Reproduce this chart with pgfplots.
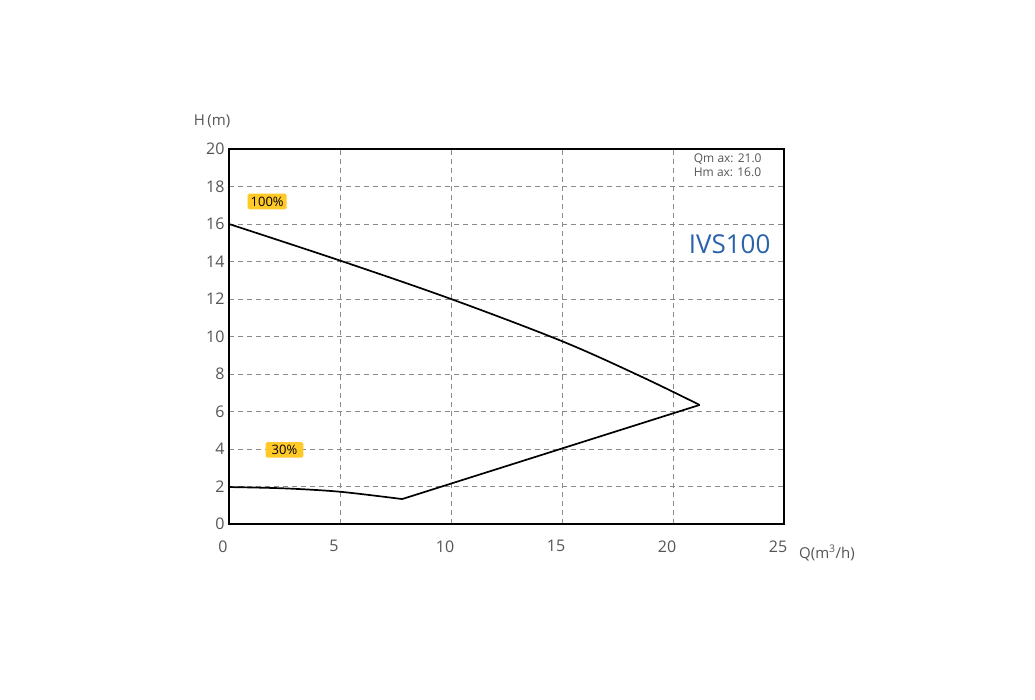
\documentclass[border=0pt]{standalone}
\usepackage{pgfplots}
\pgfplotsset{compat=1.18}
\usepackage{fontspec}
\setmainfont{Open Sans}
\definecolor{tickgrey}{HTML}{555555}
\definecolor{gridgrey}{HTML}{8A8A8A}
\definecolor{boxyellow}{HTML}{FFC928}
\definecolor{ivsblue}{HTML}{2A62AC}
\begin{document}
\begin{tikzpicture}[x=1pt,y=1pt]
\path[use as bounding box] (-229,-176) rectangle (806,524);
\begin{axis}[
  at={(0,0)}, anchor=south west,
  scale only axis, width=555pt, height=375pt,
  xmin=0, xmax=25, ymin=0, ymax=20,
  xtick={0,5,10,15,20,25}, ytick={0,2,...,20},
  grid=major,
  major grid style={gridgrey, dash pattern=on 5pt off 4pt, line width=0.9pt},
  axis line style={black, line width=2pt},
  tick style={draw=none},
  ticklabel style={font=\fontsize{16}{18}\selectfont, text=tickgrey},
  xticklabel style={yshift=-13pt, xshift=-6pt},
  yticklabel style={xshift=-1pt},
  /pgf/number format/assume math mode=true,
  clip=false,
]
\addplot[black, line width=1.7pt, smooth, tension=0.55] coordinates {
  (0,16) (5,14.05) (10,12.0) (15,9.75) (18.5,7.9) (21.2,6.35)
};
\addplot[black, line width=1.7pt] coordinates {
  (21.2,6.35) (7.8,1.33)
};
\addplot[black, line width=1.7pt, smooth, tension=0.5] coordinates {
  (7.8,1.33) (5,1.72) (2.5,1.9) (0,1.97)
};
\node[fill=boxyellow, rounded corners=1.5pt, inner xsep=3pt, inner ysep=3pt, font=\fontsize{13}{15}\selectfont] at (axis cs:1.72,17.2) {100\%};
\node[fill=boxyellow, rounded corners=1.5pt, inner xsep=6pt, inner ysep=3pt, font=\fontsize{13}{15}\selectfont] at (axis cs:2.5,3.95) {30\%};
\node[anchor=north east, align=left, text=tickgrey, font=\fontsize{12}{14}\selectfont, inner sep=0pt] at (axis cs:24.0,19.75) {Qm ax: 21.0\\Hm ax: 16.0};
\node[text=ivsblue, font=\fontsize{26}{28}\selectfont] at (axis cs:22.55,14.9) {IVS100};
\end{axis}
\node[text=tickgrey, font=\fontsize{15}{17}\selectfont] at (-17,403) {H\,(m)};
\node[text=tickgrey, font=\fontsize{15}{17}\selectfont] at (598,-29) {Q(m\textsuperscript{3}/h)};
\end{tikzpicture}
\end{document}
